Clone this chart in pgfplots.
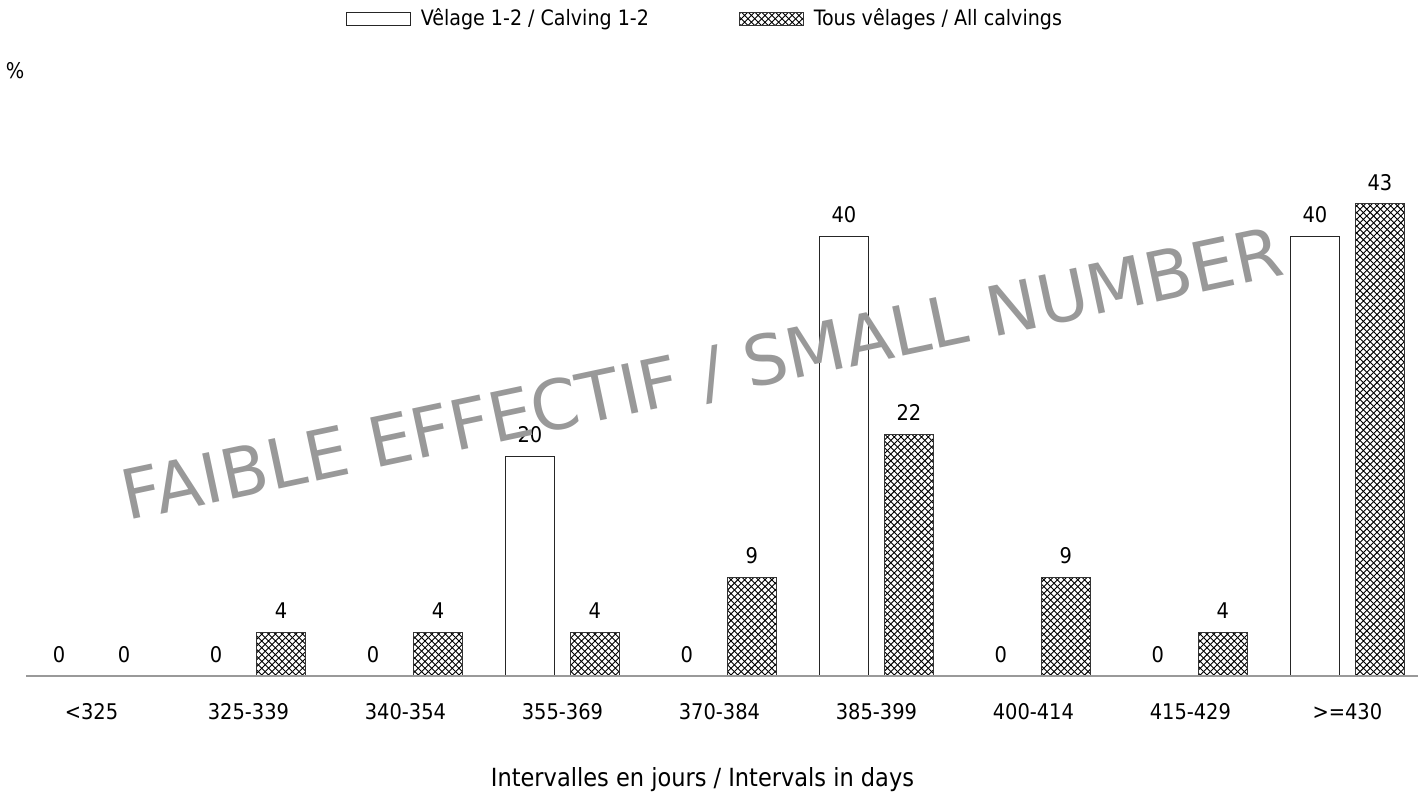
\documentclass[border=0pt]{standalone}
\usepackage{pgfplots}
\pgfplotsset{compat=1.18}
\usepackage{fontspec}
\setmainfont{DejaVu Sans Condensed}
\newfontfamily\wmfont{DejaVu Sans}
\usetikzlibrary{patterns}
\definecolor{wm}{HTML}{999999}
\pgfdeclarepatternformonly{diagcross}{\pgfqpoint{-0.5pt}{-0.5pt}}{\pgfqpoint{4pt}{4pt}}{\pgfqpoint{3.4pt}{3.4pt}}{%
  \pgfsetlinewidth{0.45pt}%
  \pgfpathmoveto{\pgfqpoint{0pt}{0pt}}\pgfpathlineto{\pgfqpoint{3.4pt}{3.4pt}}%
  \pgfpathmoveto{\pgfqpoint{0pt}{3.4pt}}\pgfpathlineto{\pgfqpoint{3.4pt}{0pt}}%
  \pgfusepath{stroke}}
\pgfplotstableread{
x a b
0 0 0
1 0 4
2 0 4
3 20 4
4 0 9
5 40 22
6 0 9
7 0 4
8 40 43
}\datatab
\begin{document}
\begin{tikzpicture}
\useasboundingbox (0,0) rectangle (709pt,397pt);
\begin{axis}[
  at={(13pt,59pt)}, anchor=south west,
  scale only axis, width=696pt, height=274.5pt,
  xmin=-0.417, xmax=8.45, ymin=0, ymax=50,
  axis x line=bottom, axis y line=none,
  axis on top,
  x axis line style={-, draw=gray!80, line width=0.8pt},
  /pgf/number format/assume math mode=true,
  xtick=data,
  xticklabels={<325,325-339,340-354,355-369,370-384,385-399,400-414,415-429,>=430},
  xtick style={draw=none},
  xticklabel style={font=\fontsize{10.8}{12}\selectfont, yshift=-6pt},
  xlabel={Intervalles en jours / Intervals in days},
  xlabel style={font=\fontsize{12.5}{14}\selectfont, at={(axis description cs:0.486,0)}, anchor=center, yshift=-52pt},
  nodes near coords,
  nodes near coords style={font=\fontsize{10.8}{12}\selectfont, inner sep=6.5pt},
  ybar, bar width=24.5pt,
  clip=false,
  legend columns=2,
  legend style={draw=none, fill=none, at={(0.4885,1.197)}, anchor=center,
    font=\fontsize{10.6}{12}\selectfont,
    /tikz/every odd column/.append style={column sep=3pt},
    /tikz/every even column/.append style={column sep=43pt}},
  legend image code/.code={\draw[#1] (0pt,-3.25pt) rectangle (32pt,3.25pt);},
]
\addplot[draw=black!85, line width=0.5pt, fill=white, bar shift=-16.25pt] table[x=x,y=a]{\datatab};
\addlegendentry{Vêlage 1-2 / Calving 1-2}
\addplot[draw=black!80, line width=0.5pt, pattern=diagcross, bar shift=16.25pt] table[x=x,y=b]{\datatab};
\addlegendentry{Tous vêlages / All calvings}
\node[font=\fontsize{10.8}{12}\selectfont] at (rel axis cs:-0.0079,1.102) {\%};
\end{axis}
\node[rotate=12, text=wm, font=\wmfont, inner sep=0pt] at (351.2pt,209pt) {\resizebox{592pt}{!}{FAIBLE EFFECTIF / SMALL NUMBER}};
\end{tikzpicture}
\end{document}
